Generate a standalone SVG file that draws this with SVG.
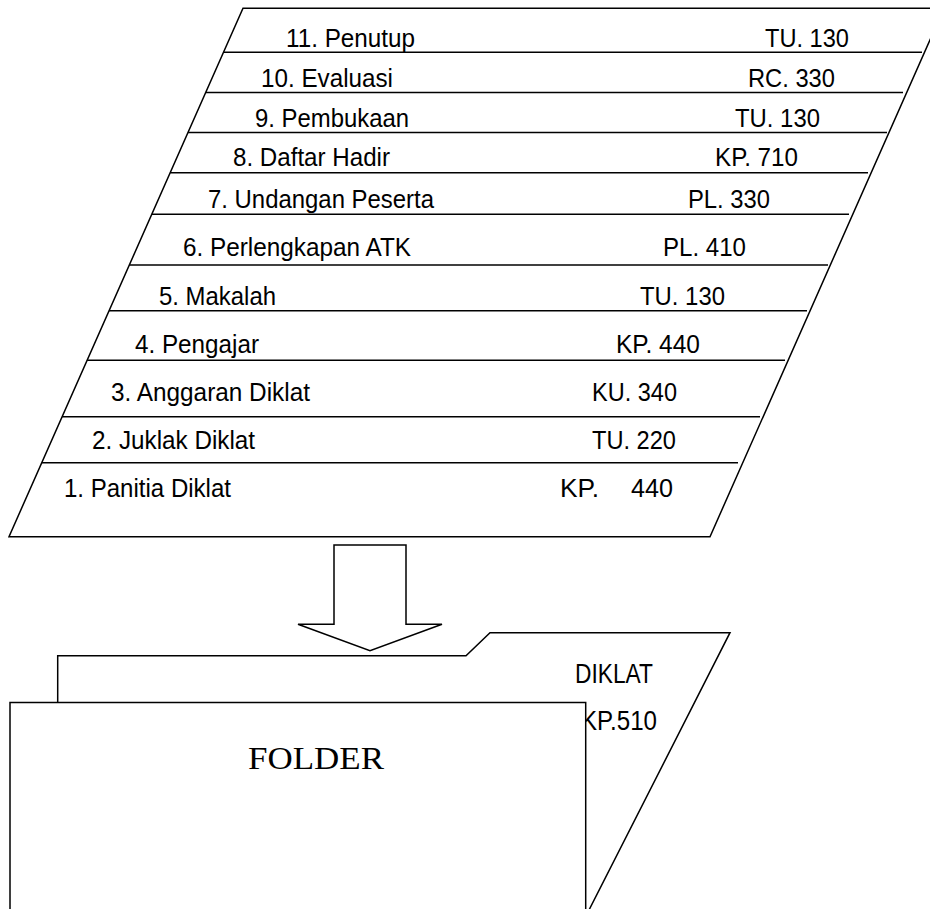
<svg xmlns="http://www.w3.org/2000/svg" width="930" height="909" viewBox="0 0 930 909">
<style>
.ln{stroke:#000;stroke-width:1.5;fill:none}
.sh{stroke:#000;stroke-width:1.5;fill:#fff;stroke-linejoin:miter}
.t{font-family:"Liberation Sans",Arial,sans-serif;font-size:26px;fill:#000}
.d{font-size:28px}
.s{font-family:"Liberation Serif","Times New Roman",serif;font-size:31px;fill:#000}
</style>
<rect width="930" height="909" fill="#fff"/>
<g id="list">
<polygon class="sh" points="243,8.3 944,8.3 710,536.7 9,536.7"/>
<g id="rows">
<line class="ln" x1="223.6" y1="52.3" x2="922" y2="52.3"/>
<line class="ln" x1="205.8" y1="92.5" x2="903" y2="92.5"/>
<line class="ln" x1="188.1" y1="132.5" x2="887" y2="132.5"/>
<line class="ln" x1="170.3" y1="172.7" x2="868" y2="172.7"/>
<line class="ln" x1="151.8" y1="214.3" x2="849" y2="214.3"/>
<line class="ln" x1="129.4" y1="265" x2="828" y2="265"/>
<line class="ln" x1="109.1" y1="310.7" x2="807" y2="310.7"/>
<line class="ln" x1="87.1" y1="360.3" x2="785" y2="360.3"/>
<line class="ln" x1="62.2" y1="416.7" x2="760" y2="416.7"/>
<line class="ln" x1="41.8" y1="462.7" x2="738" y2="462.7"/>
</g>
<g id="item11"><text class="t" x="286" y="46.7" textLength="129" lengthAdjust="spacingAndGlyphs">11. Penutup</text><text class="t" x="765" y="46.7" textLength="84" lengthAdjust="spacingAndGlyphs">TU. 130</text></g>
<g id="item10"><text class="t" x="261" y="87.3" textLength="132" lengthAdjust="spacingAndGlyphs">10. Evaluasi</text><text class="t" x="748" y="87.3" textLength="87" lengthAdjust="spacingAndGlyphs">RC. 330</text></g>
<g id="item9"><text class="t" x="255" y="127.3" textLength="154" lengthAdjust="spacingAndGlyphs">9. Pembukaan</text><text class="t" x="735" y="127.3" textLength="85" lengthAdjust="spacingAndGlyphs">TU. 130</text></g>
<g id="item8"><text class="t" x="233" y="165.7" textLength="157" lengthAdjust="spacingAndGlyphs">8. Daftar Hadir</text><text class="t" x="715" y="165.7" textLength="83" lengthAdjust="spacingAndGlyphs">KP. 710</text></g>
<g id="item7"><text class="t" x="208" y="208.3" textLength="226" lengthAdjust="spacingAndGlyphs">7. Undangan Peserta</text><text class="t" x="688" y="208.3" textLength="82" lengthAdjust="spacingAndGlyphs">PL. 330</text></g>
<g id="item6"><text class="t" x="183" y="256" textLength="228" lengthAdjust="spacingAndGlyphs">6. Perlengkapan ATK</text><text class="t" x="663" y="256" textLength="83" lengthAdjust="spacingAndGlyphs">PL. 410</text></g>
<g id="item5"><text class="t" x="159" y="305" textLength="117" lengthAdjust="spacingAndGlyphs">5. Makalah</text><text class="t" x="640" y="305" textLength="85" lengthAdjust="spacingAndGlyphs">TU. 130</text></g>
<g id="item4"><text class="t" x="135" y="353.3" textLength="124" lengthAdjust="spacingAndGlyphs">4. Pengajar</text><text class="t" x="616" y="353.3" textLength="84" lengthAdjust="spacingAndGlyphs">KP. 440</text></g>
<g id="item3"><text class="t" x="111" y="400.7" textLength="199" lengthAdjust="spacingAndGlyphs">3. Anggaran Diklat</text><text class="t" x="592" y="400.7" textLength="85" lengthAdjust="spacingAndGlyphs">KU. 340</text></g>
<g id="item2"><text class="t" x="92" y="449.3" textLength="163" lengthAdjust="spacingAndGlyphs">2. Juklak Diklat</text><text class="t" x="592" y="449.3" textLength="84" lengthAdjust="spacingAndGlyphs">TU. 220</text></g>
<g id="item1"><text class="t" x="64" y="497" textLength="167" lengthAdjust="spacingAndGlyphs">1. Panitia Diklat</text><text class="t" x="560" y="497" textLength="39" lengthAdjust="spacingAndGlyphs">KP.</text><text class="t" x="631" y="497" textLength="42" lengthAdjust="spacingAndGlyphs">440</text></g>
</g>
<g id="connectors">
<polygon id="arrow" class="sh" points="334,545 406,545 406,624.3 442,624.3 370,650.7 298,624.3 334,624.3"/>
</g>
<g id="folder">
<path class="sh" d="M57.7,703 V655.7 H466 L490,632.7 H730 L588,912 L57.7,912 Z"/>
<text class="t d" x="575" y="682.7" textLength="78" lengthAdjust="spacingAndGlyphs">DIKLAT</text>
<text class="t d" x="581" y="730" textLength="76" lengthAdjust="spacingAndGlyphs">KP.510</text>
<rect class="sh" x="10" y="702.5" width="575.7" height="220"/>
<text class="s" x="248" y="769" textLength="136" lengthAdjust="spacingAndGlyphs">FOLDER</text>
</g>
</svg>
